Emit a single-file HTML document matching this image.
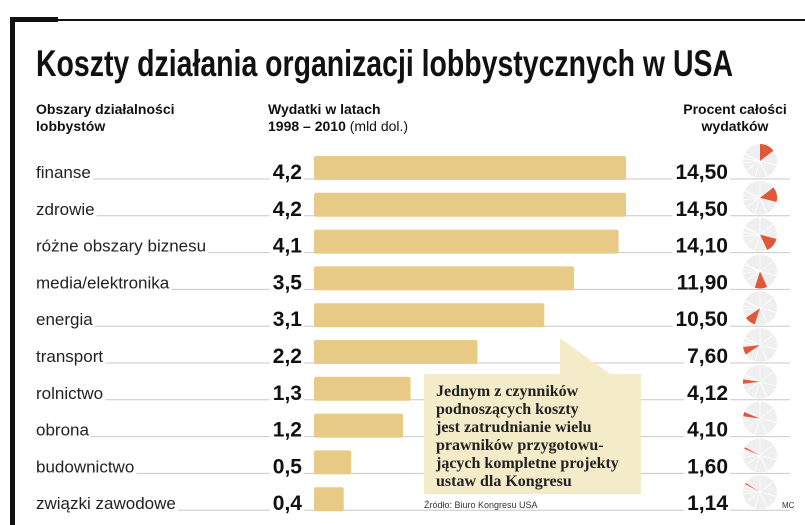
<!DOCTYPE html>
<html><head><meta charset="utf-8"><style>
html,body{margin:0;padding:0;background:#fff;}
svg{display:block;}
</style></head><body>
<svg id="chart" width="805" height="525" viewBox="0 0 805 525" font-family="Liberation Sans, sans-serif">
<rect x="0" y="0" width="805" height="525" fill="#fff"/>
<rect x="10" y="17" width="5" height="508" fill="#111"/>
<rect x="10" y="17" width="48" height="5" fill="#111"/>
<rect x="10" y="19" width="795" height="2" fill="#111"/>
<text x="36" y="76" font-family="Liberation Sans Narrow, Liberation Sans, sans-serif" font-weight="bold" font-size="37" textLength="697" lengthAdjust="spacingAndGlyphs" fill="#111">Koszty działania organizacji lobbystycznych w USA</text>
<g font-weight="bold" font-size="14" fill="#111">
<text x="36" y="114">Obszary działalności</text>
<text x="36" y="131">lobbystów</text>
<text x="268" y="114">Wydatki w latach</text>
<text x="268" y="131">1998 – 2010 <tspan font-weight="normal">(mld dol.)</tspan></text>
<text x="735" y="114" text-anchor="middle">Procent całości</text>
<text x="735" y="131" text-anchor="middle">wydatków</text>
</g>
<g id="rows"></g>
<g>
<path d="M424 374 L560 374 L560 338 L610 374 L641 374 L641 494 L424 494 Z" fill="#f4ebc9"/>
<g font-family="Liberation Serif, serif" font-weight="bold" font-size="16" fill="#222">
<text x="436" y="396">Jednym z czynników</text>
<text x="436" y="414">podnoszących koszty</text>
<text x="436" y="432">jest zatrudnianie wielu</text>
<text x="436" y="450">prawników przygotowu-</text>
<text x="436" y="468">jących kompletne projekty</text>
<text x="436" y="486">ustaw dla Kongresu</text>
</g>
</g>
<text x="424" y="508" font-size="9" fill="#333">Źródło: Biuro Kongresu USA</text>
<text x="782" y="508" font-size="8" fill="#333">MC</text>
</svg>
<script>
const categories = ["finanse","zdrowie","różne obszary biznesu","media/elektronika","energia","transport","rolnictwo","obrona","budownictwo","związki zawodowe"];
const spending = [4.2,4.2,4.1,3.5,3.1,2.2,1.3,1.2,0.5,0.4];
const spendingLabels = ["4,2","4,2","4,1","3,5","3,1","2,2","1,3","1,2","0,5","0,4"];
const percents = [14.50,14.50,14.10,11.90,10.50,7.60,4.12,4.10,1.60,1.14];
const percentLabels = ["14,50","14,50","14,10","11,90","10,50","7,60","4,12","4,10","1,60","1,14"];

const NS="http://www.w3.org/2000/svg";
const g=document.getElementById('rows');
const x0=314, xScale=312/4.2;
const xPos=v=>x0+v*xScale;
const rowY=i=>178+i*36.8;
function mk(tag,attrs,parent){const e=document.createElementNS(NS,tag);for(const k in attrs)e.setAttribute(k,attrs[k]);(parent||g).appendChild(e);return e;}
const cum=[];let acc=0;percents.forEach(p=>{cum.push(acc);acc+=p;});
categories.forEach((c,i)=>{
  const y=rowY(i);
  const row=mk('g',{});
  
  
  const lab=mk('text',{x:36,y:y,'font-size':17,fill:'#222'},row);lab.textContent=c;
  
  
  const lw=lab.getComputedTextLength();
  const val=mk('text',{x:302,y:y+1,'text-anchor':'end','font-size':21,'font-weight':'bold',fill:'#111'},row);val.textContent=spendingLabels[i];
  
  
  const vw=val.getComputedTextLength();
  const pct=mk('text',{x:728,y:y+1,'text-anchor':'end','font-size':21,'font-weight':'bold',fill:'#111'},row);pct.textContent=percentLabels[i];
  
  
  const pw=pct.getComputedTextLength();
  const ly=y+1;
  [[36+lw+2,302-vw-3],[304,728-pw-3],[730,790]].forEach(s=>{
    const l=mk('line',{x1:s[0],x2:s[1],y1:ly,y2:ly,stroke:'#c8c8c8','stroke-width':1},row);
    
    
  });
  const bar=mk('rect',{x:x0,y:y-22,width:xPos(spending[i])-x0,height:24,rx:2,fill:'#e8ca87'},row);
  
  
  const cx=760,cy=y-17,r=17;
  const pie=mk('circle',{cx:cx,cy:cy,r:r,fill:'#efefef'},row);
  
  
  percents.forEach((p,j)=>{
    const a=cum[j]/100*2*Math.PI;
    const sp=mk('line',{x1:cx,y1:cy,x2:cx+r*Math.sin(a),y2:cy-r*Math.cos(a),stroke:'#fff','stroke-width':0.7},row);
    
    
  });
  const a1=cum[i]/100*2*Math.PI,a2=(cum[i]+percents[i])/100*2*Math.PI;
  const d=`M${cx} ${cy} L${cx+r*Math.sin(a1)} ${cy-r*Math.cos(a1)} A${r} ${r} 0 0 1 ${cx+r*Math.sin(a2)} ${cy-r*Math.cos(a2)} Z`;
  const sl=mk('path',{d:d,fill:'#e0573a'},row);
  
  
});
</script>
</body></html>
